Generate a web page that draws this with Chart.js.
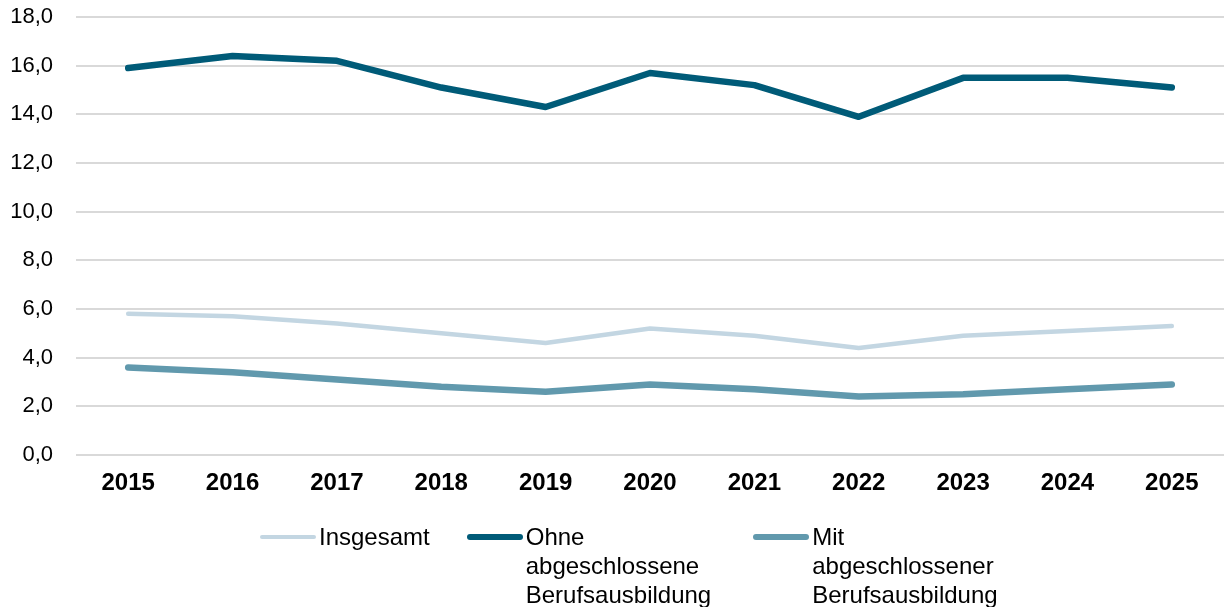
<!DOCTYPE html>
<html>
<head>
<meta charset="utf-8">
<script src="https://cdn.jsdelivr.net/npm/chart.js@4"></script>
<style>
  body { margin: 0; background: #fff; font-family: "Liberation Sans", Arial, sans-serif; }
  #wrap { position: relative; width: 1230px; height: 607px; }
  #legende { position: absolute; left: 260px; top: 522px; display: flex; align-items: flex-start; }
  .item { display: flex; align-items: flex-start; }
  .item:nth-child(1) { margin-right: 37px; }
  .item:nth-child(2) { margin-right: 42px; }
  .linie { width: 56px; border-radius: 4px; margin-right: 3px; }
  .text { font-size: 24px; line-height: 29px; color: #000; }
</style>
</head>
<body>
<div id="wrap">
  <canvas id="grafico" width="1230" height="607"></canvas>
  <div id="legende"></div>
</div>
<script>
const jahre = ["2015", "2016", "2017", "2018", "2019", "2020", "2021", "2022", "2023", "2024", "2025"];
const insgesamt = [5.8, 5.7, 5.4, 5.0, 4.6, 5.2, 4.9, 4.4, 4.9, 5.1, 5.3];
const ohneAusbildung = [15.9, 16.4, 16.2, 15.1, 14.3, 15.7, 15.2, 13.9, 15.5, 15.5, 15.1];
const mitAusbildung = [3.6, 3.4, 3.1, 2.8, 2.6, 2.9, 2.7, 2.4, 2.5, 2.7, 2.9];

const legendenTexte = [
    ["Insgesamt"],
    ["Ohne", "abgeschlossene", "Berufsausbildung"],
    ["Mit", "abgeschlossener", "Berufsausbildung"]
];

Chart.defaults.font.family = '"Liberation Sans", Arial, sans-serif';
Chart.defaults.color = "#000";

function serie(label, dados, cor, breite) {
    return {
        label: label,
        data: dados,
        borderColor: cor,
        backgroundColor: cor,
        borderWidth: breite,
        borderCapStyle: "round",
        borderJoinStyle: "round",
        pointRadius: 0,
        pointHoverRadius: 0,
        tension: 0
    };
}

const grafico = new Chart(document.getElementById("grafico").getContext("2d"), {
    type: "line",
    data: {
        labels: jahre,
        datasets: [
            serie("Insgesamt", insgesamt, "#c3d6e2", 4.5),
            serie("Ohne abgeschlossene Berufsausbildung", ohneAusbildung, "#005b78", 6.5),
            serie("Mit abgeschlossener Berufsausbildung", mitAusbildung, "#6199ad", 6.5)
        ]
    },
    options: {
        responsive: false,
        animation: false,
        layout: { padding: { top: 17, left: 10, right: 6, bottom: 110 } },
        plugins: {
            legend: { display: false },
            tooltip: { enabled: false }
        },
        scales: {
            x: {
                offset: true,
                grid: { display: false, drawTicks: false },
                border: { display: false },
                ticks: { font: { size: 24, weight: "bold" }, padding: 14, maxRotation: 0, autoSkip: false },
                afterFit: s => { s.height = 42; s.paddingLeft = 0; s.paddingRight = 0; }
            },
            y: {
                min: 0,
                max: 18,
                grid: { color: "#d9d9d9", lineWidth: 2, drawTicks: false },
                border: { display: false },
                ticks: {
                    stepSize: 2,
                    padding: 23,
                    font: { size: 22 },
                    callback: v => v.toFixed(1).replace(".", ",")
                },
                afterFit: s => { s.width = 66; s.paddingTop = 0; s.paddingBottom = 0; }
            }
        }
    }
});

// Legende als HTML
const legende = document.getElementById("legende");
grafico.data.datasets.forEach((ds, i) => {
    const item = document.createElement("div");
    item.className = "item";
    const linie = document.createElement("div");
    linie.className = "linie";
    linie.style.height = ds.borderWidth + "px";
    linie.style.background = ds.borderColor;
    linie.style.marginTop = (15 - ds.borderWidth / 2) + "px";
    const text = document.createElement("div");
    text.className = "text";
    text.innerHTML = legendenTexte[i].join("<br>");
    item.appendChild(linie);
    item.appendChild(text);
    legende.appendChild(item);
});
</script>
</body>
</html>
